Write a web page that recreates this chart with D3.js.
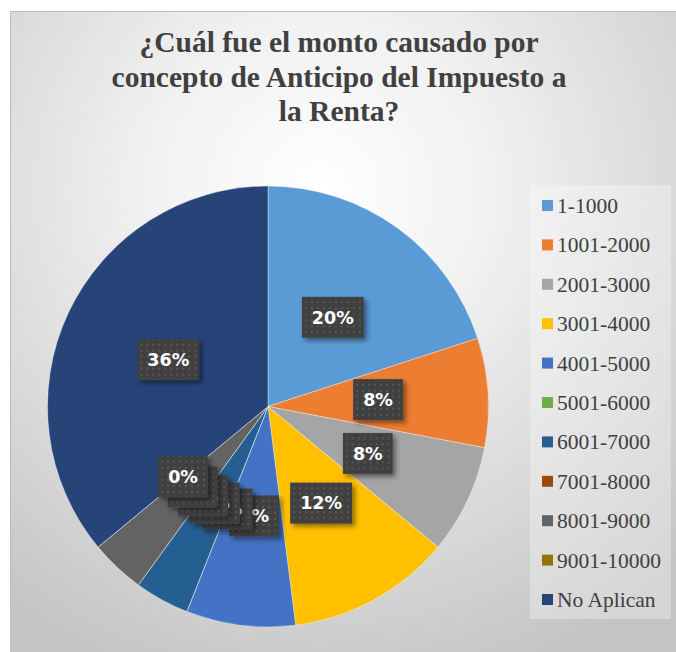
<!DOCTYPE html>
<html><head><meta charset="utf-8">
<script src="https://cdn.jsdelivr.net/npm/d3@7"></script>
<style>html,body{margin:0;padding:0;background:#fff;}svg{display:block;}</style>
</head><body>
<svg id="chart" width="676" height="652"></svg>
<script>
const titleLines = ["¿Cuál fue el monto causado por", "concepto de Anticipo del Impuesto a", "la Renta?"];
const categories = ["1-1000","1001-2000","2001-3000","3001-4000","4001-5000","5001-6000","6001-7000","7001-8000","8001-9000","9001-10000","No Aplican"];
const values = [20, 8, 8, 12, 8, 0, 4, 0, 4, 0, 36];
const colors = ["#5B9BD5","#ED7D31","#A5A5A5","#FFC000","#4472C4","#70AD47","#255E91","#9E480E","#636363","#997300","#264478"];

const data = categories.map((c, i) => ({cat: c, value: values[i]}));
const svg = d3.select("#chart");
const defs = svg.append("defs");

const bg = defs.append("radialGradient").attr("id","bg").attr("gradientUnits","userSpaceOnUse")
  .attr("cx", 320).attr("cy", 190).attr("r", 520);
bg.append("stop").attr("offset","0%").attr("stop-color","#ffffff");
bg.append("stop").attr("offset","35%").attr("stop-color","#f0f0f0");
bg.append("stop").attr("offset","100%").attr("stop-color","#c4c4c4");

const pat = defs.append("pattern").attr("id","dots").attr("patternUnits","userSpaceOnUse")
  .attr("width",6).attr("height",6);
pat.append("rect").attr("width",6).attr("height",6).attr("fill","#404040");
pat.append("rect").attr("x",2).attr("y",2).attr("width",2).attr("height",2).attr("fill","#575757");

const sh = defs.append("filter").attr("id","shadow").attr("x","-30%").attr("y","-30%").attr("width","170%").attr("height","170%");
sh.append("feDropShadow").attr("dx",3).attr("dy",3).attr("stdDeviation",2.5).attr("flood-color","#000").attr("flood-opacity",0.45);

svg.append("rect").attr("x",10.5).attr("y",11.5).attr("width",666).attr("height",641)
  .attr("fill","url(#bg)").attr("stroke","#bdbdbd").attr("stroke-width",1);

// title
const title = svg.append("text").attr("text-anchor","middle")
  .attr("font-family","'Liberation Serif','Times New Roman',serif").attr("font-weight","bold")
  .attr("font-size",29.5).attr("fill","#404040");
titleLines.forEach((t,i) => title.append("tspan").attr("x",339).attr("y",52 + i*34.5).text(t));

// pie
const cx = 268, cy = 406.5, R = 220.5;
const pie = d3.pie().sort(null).value(d => d.value);
const arcs = pie(data);
const arc = d3.arc().innerRadius(0).outerRadius(R);
const color = d3.scaleOrdinal().domain(categories).range(colors);
const g = svg.append("g").attr("transform",`translate(${cx},${cy})`);
g.selectAll("path.slice").data(arcs).join("path").attr("class","slice")
  .attr("d", arc).attr("fill", d => color(d.data.cat))
  .attr("stroke","#ffffff").attr("stroke-opacity",0.45).attr("stroke-width",0.8);

// labels
const fmt = d3.format(".0%");
const total = d3.sum(values);
arcs.forEach(d => {
  const [x,y] = arc.centroid(d);
  const lg = g.append("g").attr("transform",`translate(${x},${y})`);
  const txt = fmt(d.data.value/total);
  const t = lg.append("text").attr("text-anchor","middle").attr("dy","0.36em")
    .attr("font-family","'DejaVu Sans',sans-serif").attr("font-weight","bold")
    .attr("font-size",17.5).attr("fill","#ffffff").text(txt);
  const w = t.node().getComputedTextLength() + 20, h = 41;
  lg.insert("rect","text").attr("x",-w/2).attr("y",-h/2).attr("width",w).attr("height",h)
    .attr("fill","url(#dots)").attr("filter","url(#shadow)");
});

// legend
const lx = 530, ly = 185;
svg.append("rect").attr("x",lx).attr("y",ly).attr("width",141).attr("height",434)
  .attr("fill","#ffffff").attr("fill-opacity",0.3);
const leg = svg.append("g");
const rowY = d3.scaleLinear().domain([0, categories.length-1]).range([205.5, 599.5]);
categories.forEach((c,i) => {
  const r = leg.append("g").attr("transform",`translate(542,${rowY(i)})`);
  r.append("rect").attr("x",0).attr("y",-5.5).attr("width",11).attr("height",11).attr("fill",color(c));
  r.append("text").attr("x",15).attr("dy","0.35em")
    .attr("font-family","'Liberation Serif','Times New Roman',serif").attr("font-size",21.5)
    .attr("fill","#404040").text(c);
});
</script>
</body></html>
